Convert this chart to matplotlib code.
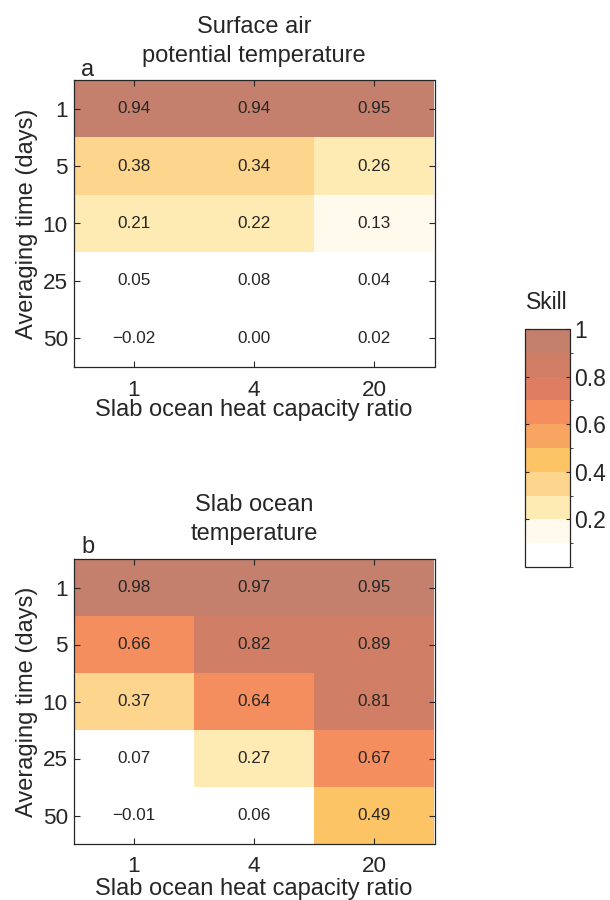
import numpy as np
import matplotlib
matplotlib.use("Agg")
import matplotlib.pyplot as plt
from matplotlib.colors import ListedColormap, BoundaryNorm

# ---- data ----
ratio_labels = ["1", "4", "20"]
time_labels = ["1", "5", "10", "25", "50"]
air_skill = [
    [0.94, 0.94, 0.95],
    [0.38, 0.34, 0.26],
    [0.21, 0.22, 0.13],
    [0.05, 0.08, 0.04],
    [-0.02, 0.00, 0.02],
]
ocean_skill = [
    [0.98, 0.97, 0.95],
    [0.66, 0.82, 0.89],
    [0.37, 0.64, 0.81],
    [0.07, 0.27, 0.67],
    [-0.01, 0.06, 0.49],
]
level_colors = ["#FFFFFF", "#FFFAEB", "#FEEBB3", "#FDD58C", "#FDC466",
                "#F8A562", "#F48E5E", "#DF7D62", "#D17E66", "#C4806C"]
level_bounds = [0, 0.1, 0.2, 0.3, 0.4, 0.5, 0.6, 0.7, 0.8, 0.9, 1.0]
cbar_ticks = [0.2, 0.4, 0.6, 0.8, 1.0]
cbar_ticklabels = ["0.2", "0.4", "0.6", "0.8", "1"]

TXT = "#262626"
plt.rcParams["font.family"] = ["Liberation Sans", "DejaVu Sans"]
plt.rcParams["text.color"] = TXT
plt.rcParams["axes.labelcolor"] = TXT
plt.rcParams["xtick.color"] = TXT
plt.rcParams["ytick.color"] = TXT

W, H = 610, 900
fig = plt.figure(figsize=(W / 100, H / 100), dpi=100)

cmap = ListedColormap(level_colors)
cmap.set_under("#FFFFFF")
norm = BoundaryNorm(level_bounds, cmap.N)


def fx(px):
    return px / W


def fy(py):
    return 1 - py / H


def panel(left, right, top, bottom, data, title, letter, title_base, letter_base,
          xlabel_base):
    ax = fig.add_axes([fx(left), fy(bottom), fx(right - left), (bottom - top) / H])
    arr = np.array(data)
    nr, nc = arr.shape
    xe = np.arange(nc + 1) + 0.5
    ye = np.arange(nr + 1) + 0.5
    m = ax.pcolormesh(xe, ye, arr, cmap=cmap, norm=norm)
    ax.set_xlim(0.5, nc + 0.5)
    ax.set_ylim(nr + 0.5, 0.5)
    ax.set_xticks(np.arange(1, nc + 1))
    ax.set_xticklabels(ratio_labels)
    ax.set_yticks(np.arange(1, nr + 1))
    ax.set_yticklabels(time_labels)
    ax.tick_params(direction="in", length=4, width=0.8, top=True, right=True,
                   labelsize=16.2)
    ax.tick_params(axis="x", pad=9)
    ax.tick_params(axis="y", pad=4)
    for s in ax.spines.values():
        s.set_color(TXT)
        s.set_linewidth(0.9)
    for i in range(nr):
        for j in range(nc):
            v = arr[i, j]
            s = f"{abs(v):.2f}"
            if v < 0:
                s = "\u2212" + s
            ax.text(j + 1, i + 1, s, ha="center", va="center", fontsize=12.3,
                    color=TXT)
    ax.set_xlabel("Slab ocean heat capacity ratio", fontsize=17)
    ax.xaxis.set_label_coords(fx((left + right) / 2), fy(xlabel_base),
                              transform=fig.transFigure)
    ax.xaxis.label.set_verticalalignment("baseline")
    ax.set_ylabel("Averaging time (days)", fontsize=17)
    ax.yaxis.set_label_coords(fx(33), fy((top + bottom) / 2),
                              transform=fig.transFigure)
    ax.yaxis.label.set_verticalalignment("baseline")
    fig.text(fx((left + right) / 2), fy(title_base), title, ha="center",
             va="baseline", fontsize=17, linespacing=1.4)
    fig.text(fx(81), fy(letter_base), letter, ha="left", va="baseline",
             fontsize=17)
    return m


m = panel(73.5, 434.5, 80, 367, air_skill,
          "Surface air\npotential temperature", "a", 62, 76, 416)
panel(73.5, 434.5, 559, 844, ocean_skill,
      "Slab ocean\ntemperature", "b", 540, 553, 895)

cax = fig.add_axes([fx(525), fy(567), fx(570 - 525), (567 - 329) / H])
cb = fig.colorbar(m, cax=cax, ticks=cbar_ticks, boundaries=level_bounds)
cb.set_ticklabels(cbar_ticklabels)
cb.outline.set_edgecolor(TXT)
cb.outline.set_linewidth(0.9)
cax.tick_params(direction="in", length=3, width=0.8, left=True, right=True,
                labelsize=16.5, pad=3)
fig.text(fx(547), fy(309), "Skill", ha="center", va="baseline", fontsize=16.5)

fig.savefig("out.png", dpi=100)
